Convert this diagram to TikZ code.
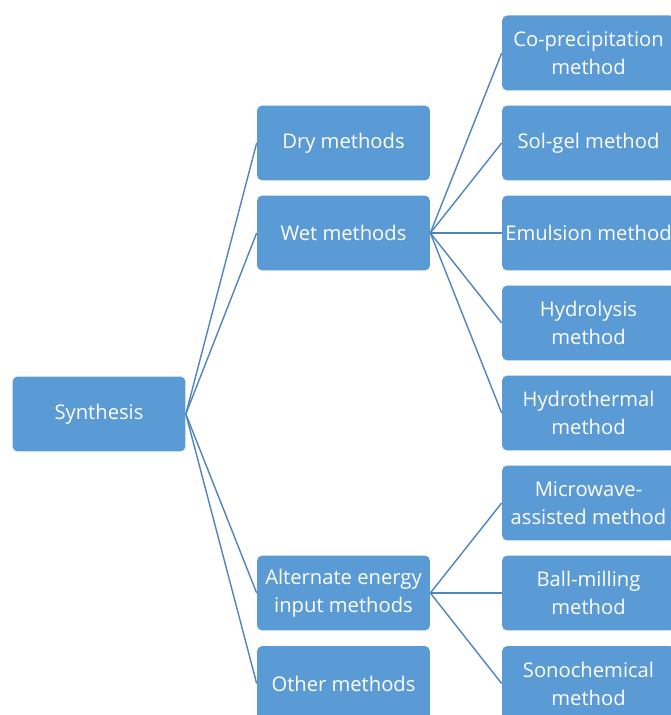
\documentclass[tikz,border=0pt]{standalone}
\usepackage{fontspec}
\setmainfont{Open Sans}
\usetikzlibrary{positioning}
\definecolor{boxblue}{HTML}{5B9BD5}
\definecolor{lineblue}{HTML}{4F85BF}

\begin{document}
\begin{tikzpicture}[x=0.02cm,y=-0.02cm,
  box/.style={rectangle, rounded corners=3pt, fill=boxblue, text=white, minimum width=3.46cm, minimum height=1.5cm, align=center, inner sep=1pt, font=\fontsize{11.5}{16}\selectfont},
  link/.style={draw=lineblue, line width=0.8pt}]
\useasboundingbox (0,0) rectangle (671,715);
\clip (0,0) rectangle (671,715);

% root
\node [box] (syn) at (99,414) {Synthesis};

% first level
\node [box] (dry) at (343.5,143) {Dry methods};
\node [box] (wet) at (343.5,233) {Wet methods};
\node [box] (alt) at (343.5,593) {Alternate energy\\input methods};
\node [box] (oth) at (343.5,683.5) {Other methods};

% wet methods
\node [box] (cop) at (588.5,53) {Co-precipitation\\method};
\node [box] (sol) at (588.5,143) {Sol-gel method};
\node [box] (emu) at (588.5,233) {Emulsion method};
\node [box] (hyl) at (588.5,323) {Hydrolysis\\method};
\node [box] (hyt) at (588.5,413) {Hydrothermal\\method};

% alternate energy
\node [box] (mic) at (588.5,503) {Microwave-\\assisted method};
\node [box] (bal) at (588.5,593) {Ball-milling\\method};
\node [box] (son) at (588.5,683.5) {Sonochemical\\method};

\foreach \t in {dry,wet,alt,oth}
  \draw [link] (syn.east) -- (\t.west);
\foreach \t in {cop,sol,emu,hyl,hyt}
  \draw [link] (wet.east) -- (\t.west);
\foreach \t in {mic,bal,son}
  \draw [link] (alt.east) -- (\t.west);

\end{tikzpicture}
\end{document}
